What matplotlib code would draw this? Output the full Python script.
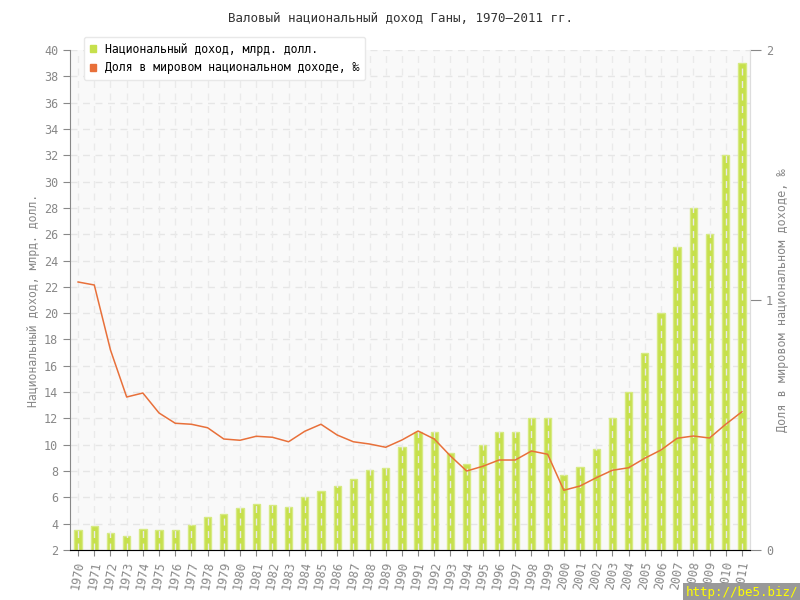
import numpy as np
import matplotlib.pyplot as plt

plt.rcParams['font.family'] = ['DejaVu Sans Mono', 'DejaVu Sans']

years = [str(y) for y in range(1970, 2012)]
# Национальный доход, млрд. долл.
income = [3.5, 3.8, 3.3, 3.1, 3.6, 3.5, 3.5, 3.9, 4.5, 4.7,
          5.2, 5.5, 5.4, 5.3, 6.0, 6.5, 6.9, 7.4, 8.1, 8.2,
          9.8, 11.0, 11.0, 9.4, 8.5, 10.0, 11.0, 11.0, 12.0, 12.0,
          7.7, 8.3, 9.7, 12.0, 14.0, 17.0, 20.0, 25.0, 28.0, 26.0,
          32.0, 39.0]
# Доля в мировом национальном доходе, промилле
share = [1.072, 1.06, 0.80, 0.612, 0.628, 0.548, 0.507, 0.503, 0.489, 0.444,
         0.439, 0.455, 0.451, 0.433, 0.475, 0.503, 0.46, 0.433, 0.424, 0.411,
         0.44, 0.476, 0.444, 0.376, 0.316, 0.335, 0.36, 0.36, 0.396, 0.383,
         0.239, 0.256, 0.289, 0.319, 0.329, 0.367, 0.40, 0.447, 0.456, 0.448,
         0.503, 0.553]

gray = '#888888'
x = np.arange(len(years))

fig = plt.figure(figsize=(8, 6), dpi=100)
ax = fig.add_axes([0.0875, 0.0833, 0.85, 0.8334])
ax.set_facecolor('#f9f9f9')

# сетка
for yv in range(2, 41, 2):
    ax.axhline(yv, color='#e6e6e6', lw=1, ls=(0, (5, 4)), zorder=1)

ax.bar(x, income, width=0.45, color='#c6e04c', edgecolor='#d6ea82', linewidth=1, zorder=2)
for xi in x:
    ax.axvline(xi, color='#eaeaea', lw=1, ls=(0, (5, 4)), zorder=3)

ax.set_xlim(-0.5, len(years) - 0.5)
ax.set_ylim(2, 40)
ax.set_yticks(range(2, 41, 2))
ax.set_xticks(x)
ax.set_xticklabels(years, rotation=80, fontsize=8.5, color=gray)
ax.tick_params(axis='y', labelsize=8.5, colors=gray, length=5)
ax.tick_params(axis='x', colors=gray, length=4)
ax.set_ylabel('Национальный доход, млрд. долл.', color=gray, fontsize=8.3, labelpad=3)

ax.spines['top'].set_visible(False)
ax.spines['left'].set_color(gray)
ax.spines['bottom'].set_color(gray)
ax.spines['right'].set_color('#dddddd')

ax2 = ax.twinx()
ax2.plot(x, share, color='#e8703a', lw=1.1, zorder=4)
ax2.set_ylim(0, 2)
ax2.set_yticks([0, 1, 2])
ax2.tick_params(axis='y', labelsize=8.5, colors=gray, length=8)
ax2.set_ylabel('Доля в мировом национальном доходе, ‰', color=gray, fontsize=8.5, labelpad=2)
ax2.spines['top'].set_visible(False)
ax2.spines['right'].set_color('#dddddd')
ax2.spines['left'].set_visible(False)

fig.text(0.5, 0.97, 'Валовый национальный доход Ганы, 1970–2011 гг.',
         ha='center', va='center', fontsize=9, color='#333333')

h1 = plt.Rectangle((0, 0), 1, 1, color='#c6e04c')
h2 = plt.Rectangle((0, 0), 1, 1, color='#e8703a')
leg = fig.legend([h1, h2], ['Национальный доход, млрд. долл.',
                            'Доля в мировом национальном доходе, ‰'],
                 loc='upper left', bbox_to_anchor=(0.098, 0.948), fontsize=8.3,
                 frameon=True, fancybox=True, handlelength=0.5, handleheight=0.5,
                 labelspacing=0.5, borderpad=0.5, handletextpad=0.8)
leg.get_frame().set_edgecolor('#e8e8e8')
leg.get_frame().set_facecolor('white')
leg.get_frame().set_alpha(1)

fig.text(0.998, 0.002, 'http://be5.biz/', ha='right', va='bottom', fontsize=9,
         color='#ffff00', bbox=dict(facecolor='#999999', edgecolor='none', pad=2))

fig.savefig('out.png', dpi=100)
